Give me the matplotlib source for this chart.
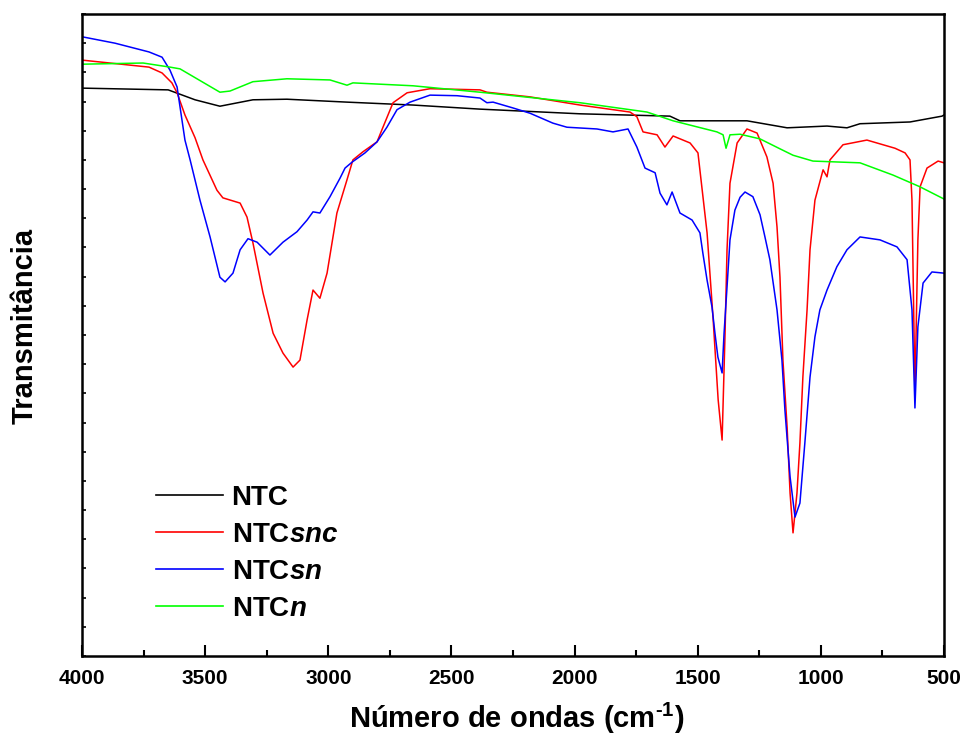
import numpy as np
import matplotlib
matplotlib.use("Agg")
import matplotlib.pyplot as plt
from matplotlib.ticker import MultipleLocator

plt.rcParams['font.family'] = ['Liberation Sans', 'DejaVu Sans']
plt.rcParams['mathtext.fontset'] = 'custom'
plt.rcParams['mathtext.rm'] = 'Liberation Sans:bold'
plt.rcParams['mathtext.bf'] = 'Liberation Sans:bold'
plt.rcParams['mathtext.it'] = 'Liberation Sans:italic:bold'
plt.rcParams['mathtext.bfit'] = 'Liberation Sans:italic:bold'

# ---- data (wavenumber in cm-1, transmittance in arbitrary units) ----
ntc_wn = [4000, 3650, 3541, 3440, 3306, 3168, 2924, 2656, 2384, 1978, 1613, 1572,
          1300, 1137, 975, 894, 841, 638, 508, 500]
ntc_t = [97.3, 97.0, 95.3, 94.2, 95.3, 95.4, 94.9, 94.4, 93.7, 92.9, 92.5, 91.7,
         91.7, 90.5, 90.8, 90.5, 91.2, 91.5, 92.5, 92.7]

ntcn_wn = [4000, 3752, 3643, 3602, 3440, 3399, 3306, 3168, 2993, 2924, 2900, 2656,
           2384, 1978, 1706, 1600, 1422, 1397, 1385, 1369, 1328, 1247, 1166, 1113,
           1032, 841, 707, 598, 500]
ntcn_t = [101.4, 101.6, 100.9, 100.6, 96.6, 96.8, 98.4, 98.9, 98.7, 97.8, 98.2, 97.7,
          96.6, 94.8, 93.2, 91.7, 89.8, 89.3, 87.0, 89.3, 89.4, 88.6, 86.9, 85.8,
          84.8, 84.5, 82.4, 80.4, 78.3]

ntcsnc_wn = [4000, 3728, 3675, 3635, 3614, 3582, 3541, 3509, 3452, 3428, 3358, 3330,
             3306, 3265, 3224, 3184, 3143, 3115, 3086, 3062, 3034, 3005, 2965, 2924,
             2900, 2859, 2802, 2778, 2737, 2680, 2587, 2384, 2356, 2181, 1978, 1775,
             1747, 1722, 1665, 1633, 1600, 1531, 1499, 1462, 1438, 1417, 1401, 1389,
             1381, 1369, 1340, 1300, 1259, 1219, 1194, 1178, 1166, 1154, 1137, 1125,
             1113, 1097, 1085, 1073, 1056, 1044, 1024, 991, 975, 963, 910, 813,
             699, 658, 638, 630, 618, 606, 597, 569, 524, 500]
ntcsnc_t = [102.1, 100.9, 99.9, 98.2, 96.5, 92.7, 88.8, 85.0, 79.8, 78.5, 77.6, 75.2,
            70.8, 62.2, 55.3, 51.9, 49.5, 50.7, 57.6, 62.7, 61.3, 65.6, 75.9, 81.6,
            85.0, 86.4, 88.1, 90.6, 94.8, 96.5, 97.2, 97.0, 96.6, 95.8, 94.4, 93.2,
            92.4, 89.8, 89.3, 87.2, 89.1, 87.9, 86.2, 72.5, 58.1, 43.9, 37.0, 55.3,
            69.6, 81.0, 87.9, 90.3, 89.6, 85.5, 81.0, 73.5, 64.9, 50.7, 39.2, 27.9,
            21.1, 27.9, 36.5, 47.8, 59.3, 69.6, 78.1, 83.3, 82.1, 85.0, 87.6, 88.4,
            87.0, 86.2, 85.0, 78.1, 45.1, 71.3, 80.4, 83.6, 84.8, 84.5]

ntcsn_wn = [4000, 3866, 3728, 3675, 3643, 3614, 3582, 3561, 3521, 3480, 3440, 3419,
            3387, 3358, 3326, 3289, 3237, 3184, 3127, 3086, 3062, 3034, 2993, 2952,
            2932, 2904, 2851, 2802, 2762, 2721, 2668, 2587, 2477, 2384, 2356, 2331,
            2250, 2181, 2088, 2031, 1909, 1844, 1783, 1747, 1714, 1673, 1653, 1625,
            1604, 1572, 1523, 1491, 1479, 1462, 1442, 1430, 1418, 1401, 1393, 1381,
            1369, 1349, 1328, 1308, 1276, 1247, 1227, 1207, 1178, 1158, 1146, 1125,
            1105, 1085, 1065, 1044, 1024, 1004, 975, 935, 894, 841, 760, 691,
            650, 630, 618, 606, 585, 549, 500]
ntcsn_t = [106.1, 105.0, 103.5, 102.6, 100.4, 97.5, 88.4, 85.0, 78.1, 71.8, 64.9, 64.1,
           65.6, 69.6, 71.5, 70.9, 68.7, 70.9, 72.7, 74.7, 76.1, 75.9, 78.7, 81.9,
           83.6, 84.6, 86.2, 88.1, 90.6, 93.6, 94.9, 96.1, 96.0, 95.6, 94.8, 94.9,
           93.9, 93.0, 91.3, 90.6, 90.3, 89.8, 90.3, 87.2, 83.6, 82.8, 79.3, 77.3,
           79.5, 75.9, 74.7, 72.5, 69.0, 64.4, 59.8, 55.3, 51.2, 48.5, 55.3, 63.2,
           71.3, 76.4, 78.6, 79.5, 78.7, 75.6, 71.8, 67.9, 59.3, 50.7, 42.2, 30.7,
           23.8, 26.2, 36.5, 47.8, 54.7, 59.3, 62.7, 66.7, 69.6, 71.8, 71.3, 70.1,
           67.9, 59.3, 42.5, 56.4, 63.9, 65.8, 65.6]

labels = ['NTC', r'NTC$\mathit{snc}$', r'NTC$\mathit{sn}$', r'NTC$\mathit{n}$']
colors = ['#000000', '#ff0000', '#0000ff', '#00ff00']
xticks = [4000, 3500, 3000, 2500, 2000, 1500, 1000, 500]

fig = plt.figure(figsize=(9.64, 7.44), dpi=100)
ax = fig.add_axes([82/964, 88/744, 862/964, 642/744])

series = [(ntc_wn, ntc_t), (ntcsnc_wn, ntcsnc_t), (ntcsn_wn, ntcsn_t), (ntcn_wn, ntcn_t)]
for (wn, t), lab, c in zip(series, labels, colors):
    ax.plot(wn, t, color=c, lw=1.1, label=lab)

ax.set_xlim(4000, 500)
ax.set_ylim(0, 110)
ax.set_xticks(xticks)
ax.set_xticklabels([str(v) for v in xticks])
ax.xaxis.set_minor_locator(MultipleLocator(250))
ax.yaxis.set_major_locator(MultipleLocator(5))
ax.tick_params(axis='x', which='major', direction='in', length=8, width=1.5,
               labelsize=15, pad=9, top=False)
ax.tick_params(axis='x', which='minor', direction='in', length=4, width=1.5, top=False)
ax.tick_params(axis='y', which='major', direction='in', length=3, width=1.2,
               labelleft=False, right=False)
for lbl in ax.get_xticklabels():
    lbl.set_fontweight('bold')
for s in ax.spines.values():
    s.set_linewidth(1.8)

ax.set_xlabel(r'Número de ondas (cm$^{\text{-1}}$)', fontsize=21, fontweight='bold')
ax.set_ylabel('Transmitância', fontsize=21, fontweight='bold')
ax.xaxis.set_label_coords(0.504, -0.07)
ax.yaxis.set_label_coords(-0.05, 0.514)

leg = ax.legend(loc='upper left', bbox_to_anchor=(0.0858, 0.267), frameon=False,
                handlelength=2.4, handletextpad=0.32, labelspacing=0.40,
                borderpad=0, borderaxespad=0, prop={'weight': 'bold', 'size': 20})
for line in leg.get_lines():
    line.set_linewidth(1.2)

fig.savefig('out.png', dpi=100)
